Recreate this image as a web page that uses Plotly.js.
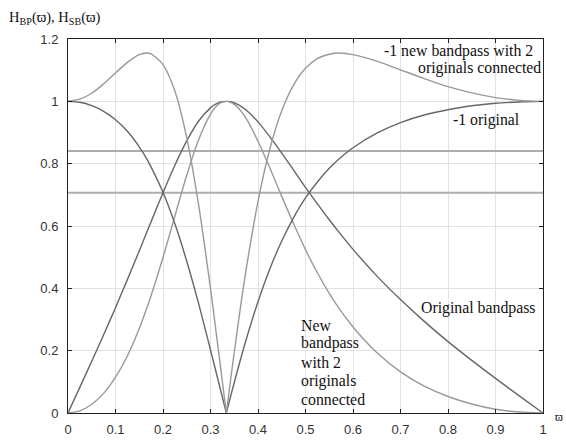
<!DOCTYPE html>
<html>
<head>
<meta charset="utf-8">
<script src="https://cdn.plot.ly/plotly-3.0.1.min.js"></script>
<style>html,body{margin:0;padding:0;background:#fff;}#chart{width:566px;height:440px;}</style>
</head>
<body>
<div id="chart"></div>
<script>
// normalized frequency (1 = Nyquist)
var omega = [0, 0.025, 0.05, 0.075, 0.1, 0.125, 0.15, 0.1667, 0.175, 0.2, 0.225, 0.25, 0.275, 0.3, 0.31, 0.32, 0.3333, 0.345, 0.36, 0.375, 0.4, 0.425, 0.45, 0.475, 0.5, 0.525, 0.55, 0.57, 0.6, 0.65, 0.7, 0.75, 0.8, 0.85, 0.9, 0.95, 1];
// original bandpass |H_BP|
var originalBandpass = [0, 0.083, 0.166, 0.251, 0.338, 0.428, 0.520, 0.583, 0.614, 0.707, 0.795, 0.873, 0.937, 0.979, 0.990, 0.997, 1, 0.998, 0.988, 0.972, 0.934, 0.886, 0.834, 0.779, 0.724, 0.671, 0.620, 0.581, 0.525, 0.440, 0.364, 0.294, 0.229, 0.169, 0.111, 0.055, 0];
// new bandpass with 2 originals connected
var newBandpass = [0, 0.007, 0.028, 0.063, 0.115, 0.183, 0.271, 0.340, 0.377, 0.499, 0.632, 0.763, 0.877, 0.959, 0.980, 0.994, 1, 0.995, 0.976, 0.945, 0.872, 0.786, 0.695, 0.607, 0.524, 0.450, 0.384, 0.337, 0.276, 0.194, 0.132, 0.086, 0.053, 0.029, 0.012, 0.003, 0];
// -1 original (stopband)
var minusOneOriginal = [1, 0.997, 0.986, 0.968, 0.941, 0.904, 0.854, 0.813, 0.789, 0.708, 0.607, 0.487, 0.351, 0.202, 0.142, 0.081, 0, 0.069, 0.154, 0.235, 0.357, 0.463, 0.552, 0.627, 0.690, 0.741, 0.785, 0.814, 0.851, 0.898, 0.932, 0.956, 0.973, 0.986, 0.994, 0.998, 1];
// -1 new bandpass with 2 originals connected
var minusOneNew = [1, 1.007, 1.026, 1.056, 1.091, 1.125, 1.150, 1.155, 1.152, 1.118, 1.033, 0.883, 0.668, 0.399, 0.281, 0.161, 0, 0.138, 0.306, 0.460, 0.679, 0.848, 0.970, 1.053, 1.106, 1.137, 1.151, 1.155, 1.150, 1.129, 1.101, 1.073, 1.047, 1.027, 1.012, 1.003, 1];
// reference levels
var refLevels = [0.707, 0.841];
var xTicks = [0, 0.1, 0.2, 0.3, 0.4, 0.5, 0.6, 0.7, 0.8, 0.9, 1];
var xTickText = ['0', '0.1', '0.2', '0.3', '0.4', '0.5', '0.6', '0.7', '0.8', '0.9', '1'];
var yTicks = [0, 0.2, 0.4, 0.6, 0.8, 1, 1.2];
var yTickText = ['0', '0.2', '0.4', '0.6', '0.8', '1', '1.2'];

var dark = '#666666', light = '#999999';
var traces = [];
refLevels.forEach(function (v) {
  traces.push({x: [xTicks[0], xTicks[xTicks.length - 1]], y: [v, v], mode: 'lines',
    line: {color: '#adadad', width: 2}, hoverinfo: 'skip'});
});
function addSmooth(ys, color) {
  traces.push({x: omega, y: ys, mode: 'lines', line: {color: color, width: 1.4, shape: 'spline', smoothing: 0.8}});
}
function addNotch(ys, color) {
  // split at the notch so the V stays sharp
  var k = ys.indexOf(0, 1);
  traces.push({x: omega.slice(0, k + 1), y: ys.slice(0, k + 1), mode: 'lines',
    line: {color: color, width: 1.4, shape: 'spline', smoothing: 0.8}});
  traces.push({x: omega.slice(k), y: ys.slice(k), mode: 'lines',
    line: {color: color, width: 1.4, shape: 'spline', smoothing: 0.8}});
}
addSmooth(originalBandpass, dark);
addSmooth(newBandpass, light);
addNotch(minusOneOriginal, dark);
addNotch(minusOneNew, light);

var serifFam = 'Liberation Serif, Times New Roman, serif';
var serif = {family: serifFam, size: 15.8, color: '#111'};
function ann(text, x, y, xanchor) {
  return {text: text, x: x, y: y, xref: 'x', yref: 'y', showarrow: false, xanchor: xanchor,
    yanchor: 'middle', font: serif, align: 'left'};
}

var layout = {
  width: 566, height: 440,
  margin: {l: 68, r: 23, t: 39, b: 27, pad: 0},
  paper_bgcolor: '#fff', plot_bgcolor: '#fff',
  showlegend: false,
  font: {family: 'Liberation Sans, Arial, sans-serif', size: 13, color: '#333'},
  xaxis: {range: [0, 1], tickvals: xTicks, ticktext: xTickText, showgrid: true, gridcolor: '#e2e2e2',
    gridwidth: 1, zeroline: false, showline: true, linecolor: '#222', linewidth: 1, mirror: 'ticks',
    ticks: 'inside', ticklen: 4, tickcolor: '#222', ticklabelstandoff: 4},
  yaxis: {range: [0, 1.2], tickvals: yTicks, ticktext: yTickText, showgrid: true, gridcolor: '#e2e2e2',
    gridwidth: 1, zeroline: false, showline: true, linecolor: '#222', linewidth: 1, mirror: 'ticks',
    ticks: 'inside', ticklen: 4, tickcolor: '#222', ticklabelstandoff: 6},
  annotations: [
    {text: 'H<sub>BP</sub>(ϖ), H<sub>SB</sub>(ϖ)', xref: 'paper', yref: 'paper', x: -0.128, y: 1.056,
      xanchor: 'left', yanchor: 'middle', showarrow: false, font: {family: serifFam, size: 14.5, color: '#111'}},
    {text: 'ϖ', xref: 'paper', yref: 'paper', x: 1.047, y: -0.01, xanchor: 'right', yanchor: 'middle',
      showarrow: false, font: {family: serifFam, size: 12, color: '#111'}},
    ann('-1 new bandpass with 2', 0.983, 1.162, 'right'),
    ann('originals connected', 1.0, 1.108, 'right'),
    ann('-1 original', 0.88, 0.941, 'center'),
    ann('Original bandpass', 0.864, 0.337, 'center'),
    ann('New', 0.486, 0.282, 'left'),
    ann('bandpass', 0.486, 0.224, 'left'),
    ann('with 2', 0.486, 0.163, 'left'),
    ann('originals', 0.486, 0.102, 'left'),
    ann('connected', 0.486, 0.043, 'left')
  ]
};
Plotly.newPlot('chart', traces, layout, {staticPlot: true, displayModeBar: false});
</script>
</body>
</html>
